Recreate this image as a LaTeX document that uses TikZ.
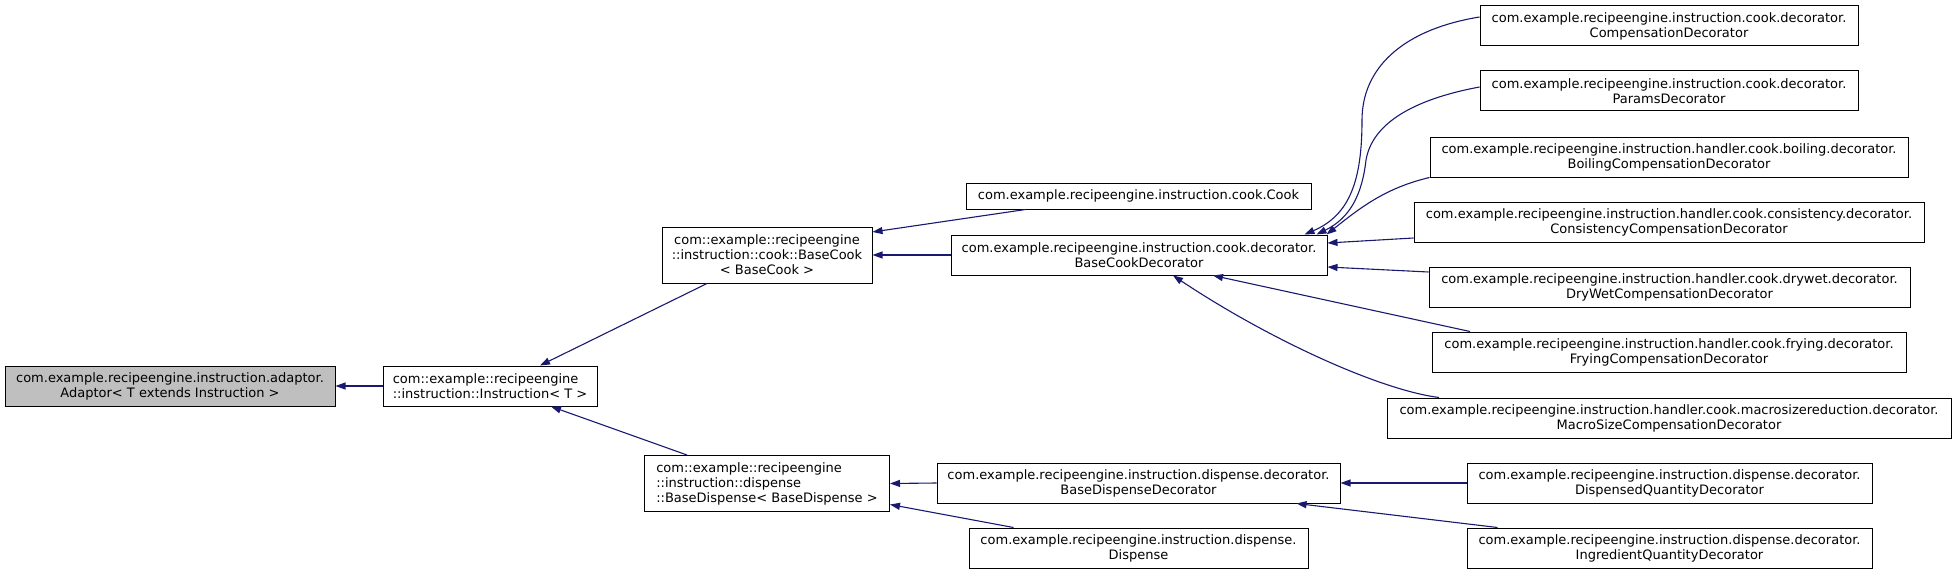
\documentclass[tikz,border=0pt]{standalone}
\usepackage{fontspec}
\setmainfont{DejaVu Sans}
\usetikzlibrary{arrows.meta}
\definecolor{edgeblue}{RGB}{25,25,112}
\definecolor{rootgray}{RGB}{191,191,191}

\begin{document}
\begin{tikzpicture}[x=1pt,y=-1pt,
        cls/.style={draw=black, line width=1pt, fill=white, inner xsep=3pt, inner ysep=0pt,
            minimum height=40pt, align=center, font=\fontsize{13}{15}\selectfont},
        edge/.style={draw=edgeblue, line width=1.1pt, -{Triangle[length=10pt,width=7pt]}}]
            \useasboundingbox (0,0) rectangle (1953,575);
            % left part
            \node[cls, fill=rootgray, minimum width=330pt] (adaptor) at (170,386) {com.example.recipeengine.instruction.adaptor.\\Adaptor< T extends Instruction >};
            \node[cls, align=left, minimum width=214pt] (instr) at (490,386) {com::example::recipeengine\\::instruction::Instruction< T >};
            \node[cls, minimum width=210pt, minimum height=56pt] (basecook) at (767,255) {com::example::recipeengine\\::instruction::cook::BaseCook\\< BaseCook >};
            \node[cls, align=left, minimum width=245pt, minimum height=56pt] (basedisp) at (767,483.5) {com::example::recipeengine\\::instruction::dispense\\::BaseDispense< BaseDispense >};
            % middle column
            \node[cls, minimum width=345pt, minimum height=26pt] (cook) at (1138.5,196) {com.example.recipeengine.instruction.cook.Cook};
            \node[cls, minimum width=376pt] (bcd) at (1139,255) {com.example.recipeengine.instruction.cook.decorator.\\BaseCookDecorator};
            \node[cls, minimum width=403pt] (bdd) at (1138.5,483) {com.example.recipeengine.instruction.dispense.decorator.\\BaseDispenseDecorator};
            \node[cls, minimum width=339pt] (disp) at (1138.5,548) {com.example.recipeengine.instruction.dispense.\\Dispense};
            % right column
            \node[cls, minimum width=378pt] (comp) at (1669,26) {com.example.recipeengine.instruction.cook.decorator.\\CompensationDecorator};
            \node[cls, minimum width=378pt] (params) at (1669,91) {com.example.recipeengine.instruction.cook.decorator.\\ParamsDecorator};
            \node[cls, minimum width=478pt] (boiling) at (1669,157) {com.example.recipeengine.instruction.handler.cook.boiling.decorator.\\BoilingCompensationDecorator};
            \node[cls, minimum width=510pt] (consist) at (1669,222) {com.example.recipeengine.instruction.handler.cook.consistency.decorator.\\ConsistencyCompensationDecorator};
            \node[cls, minimum width=481pt] (drywet) at (1669.5,287) {com.example.recipeengine.instruction.handler.cook.drywet.decorator.\\DryWetCompensationDecorator};
            \node[cls, minimum width=474pt] (frying) at (1669,352) {com.example.recipeengine.instruction.handler.cook.frying.decorator.\\FryingCompensationDecorator};
            \node[cls, minimum width=564pt] (macro) at (1669,418) {com.example.recipeengine.instruction.handler.cook.macrosizereduction.decorator.\\MacroSizeCompensationDecorator};
            \node[cls, minimum width=405pt] (dispq) at (1669.5,483) {com.example.recipeengine.instruction.dispense.decorator.\\DispensedQuantityDecorator};
            \node[cls, minimum width=405pt] (ingq) at (1669.5,548) {com.example.recipeengine.instruction.dispense.decorator.\\IngredientQuantityDecorator};
            % inheritance edges
            \draw[edge] (instr.west) -- (adaptor.east);
            \draw[edge] ([xshift=-60pt]basecook.south) -- ([xshift=50pt]instr.north);
            \draw[edge] ([xshift=-80pt]basedisp.north) -- ([xshift=61pt]instr.south);
            \draw[edge] ([xshift=-113pt]cook.south) -- ([yshift=23pt]basecook.east);
            \draw[edge] (bcd.west) -- (basecook.east);
            \draw[edge] (bdd.west) -- (basedisp.east);
            \draw[edge] ([xshift=-125pt]disp.north) -- ([yshift=-21pt]basedisp.east);
            \draw[edge] ([yshift=9pt]comp.west) .. controls (1400,30) and (1362,70) .. (1362,120) .. controls (1362,180) and (1350,215) .. ([xshift=-23pt]bcd.north east);
            \draw[edge] ([yshift=4pt]params.west) .. controls (1410,100) and (1372,125) .. (1366,160) .. controls (1362,195) and (1350,218) .. ([xshift=-11pt]bcd.north east);
            \draw[edge] (boiling.south west) .. controls (1385,188) and (1360,208) .. ([xshift=-1pt]bcd.north east);
            \draw[edge] ([yshift=-16pt]consist.west) -- ([yshift=12pt]bcd.east);
            \draw[edge] ([yshift=15pt]drywet.west) -- ([yshift=-12pt]bcd.east);
            \draw[edge] ([xshift=-199pt]frying.north) -- ([xshift=74pt]bcd.south);
            \draw[edge] ([xshift=-230pt]macro.north) .. controls (1380,390) and (1270,340) .. ([xshift=34pt]bcd.south);
            \draw[edge] (dispq.west) -- (bdd.east);
            \draw[edge] ([xshift=-172pt]ingq.north) -- ([xshift=158pt]bdd.south);
        \end{tikzpicture}
\end{document}
